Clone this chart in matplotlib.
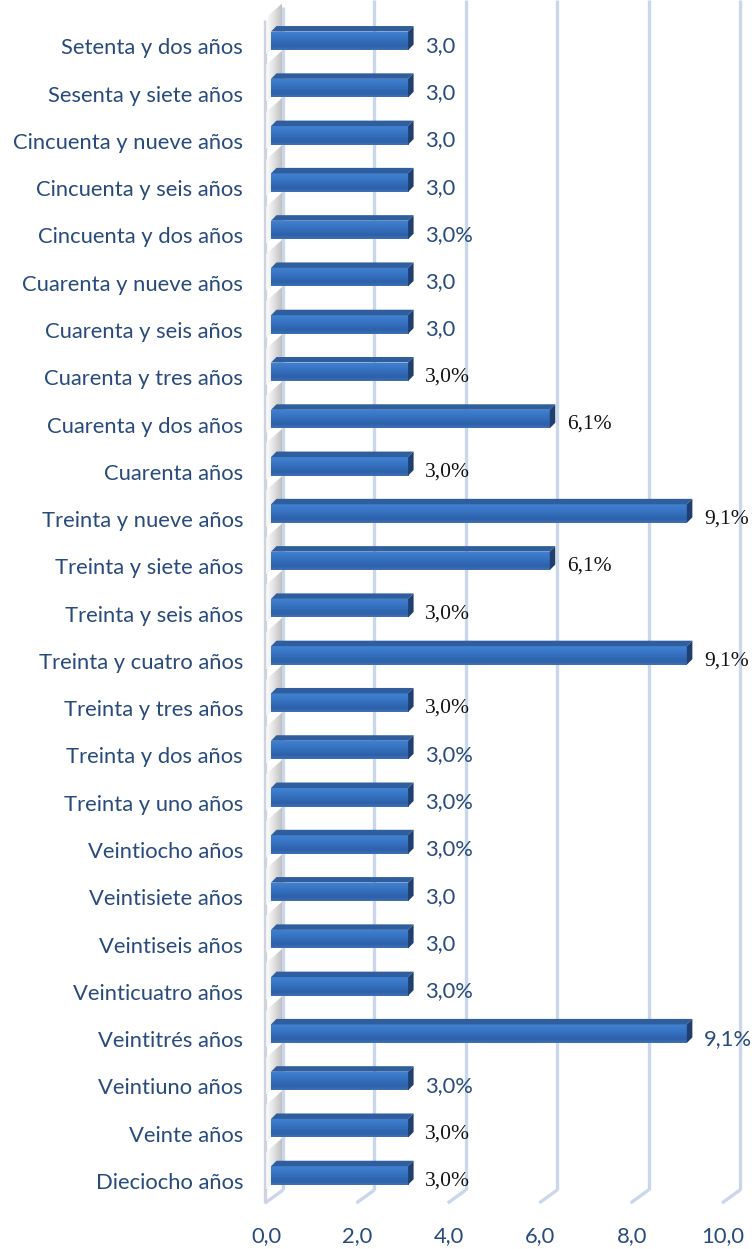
import numpy as np
import matplotlib
matplotlib.use("Agg")
import matplotlib.pyplot as plt
from matplotlib.patches import Polygon
from matplotlib.colors import LinearSegmentedColormap

# ---------------- data (top to bottom) ----------------
categories = [
    "Setenta y dos años", "Sesenta y siete años", "Cincuenta y nueve años",
    "Cincuenta y seis años", "Cincuenta y dos años", "Cuarenta y nueve años",
    "Cuarenta y seis años", "Cuarenta y tres años", "Cuarenta y dos años",
    "Cuarenta años", "Treinta y nueve años", "Treinta y siete años",
    "Treinta y seis años", "Treinta y cuatro años", "Treinta y tres años",
    "Treinta y dos años", "Treinta y uno años", "Veintiocho años",
    "Veintisiete años", "Veintiseis años", "Veinticuatro años",
    "Veintitrés años", "Veintiuno años", "Veinte años", "Dieciocho años",
]
values = [3.0, 3.0, 3.0, 3.0, 3.0, 3.0, 3.0, 3.0, 6.1, 3.0, 9.1, 6.1, 3.0,
          9.1, 3.0, 3.0, 3.0, 3.0, 3.0, 3.0, 3.0, 9.1, 3.0, 3.0, 3.0]
value_labels = ["3,0", "3,0", "3,0", "3,0", "3,0%", "3,0", "3,0", "3,0%",
                "6,1%", "3,0%", "9,1%", "6,1%", "3,0%", "9,1%", "3,0%",
                "3,0%", "3,0%", "3,0%", "3,0", "3,0", "3,0%", "9,1%",
                "3,0%", "3,0%", "3,0%"]
label_styles = ["b", "b", "b", "b", "b", "b", "b", "s", "s", "s", "s", "s",
                "s", "s", "s", "b", "b", "b", "b", "b", "b", "b", "b", "s", "s"]
xticks = [0, 2, 4, 6, 8, 10]
xtick_labels = ["0,0", "2,0", "4,0", "6,0", "8,0", "10,0"]

# ---------------- geometry ----------------
W, H = 752, 1249
fig = plt.figure(figsize=(W / 100, H / 100), dpi=100)
ax = fig.add_axes([0, 0, 1, 1])
ax.axis("off")

n = len(categories)
ppu = 45.7          # pixels per value unit
x0px = 271
ytop_px, ybot_px = 40.8, 1175.5
step = (ybot_px - ytop_px) / (n - 1)
dxu = 1 / ppu       # one pixel in x data units
dyu = 1 / step      # one pixel in y data units (y grows downward)

def py(p):  # pixel y -> data y
    return (p - ytop_px) / step

xlim = (-x0px / ppu, (W - x0px) / ppu)
ylim = (py(H), py(0))

navy = "#284A7C"
grid_c = "#CAD7EA"
FS = 15.8

# back wall gridlines + floor diagonals
for t in xticks:
    xb = t + 12 * dxu
    xf = t - 6 * dxu
    ax.plot([xb, xb], [py(0 if t else 7), py(1190)], color=grid_c, lw=2.4,
            solid_capstyle="butt", zorder=1)
    ax.plot([xb, xf], [py(1190), py(1203)], color=grid_c, lw=2.4,
            solid_capstyle="butt", zorder=1)
# left wall front edge
ax.plot([-6 * dxu, -6 * dxu], [py(20), py(1203)], color="#CDD4DE", lw=2.4,
        solid_capstyle="butt", zorder=1)

ypos = np.arange(n)
bh = 18.5 * dyu
ddx, ddy = 5.5 * dxu, 5.5 * dyu

# wall shadows (soft gradient)
sh_grad = np.linspace(0, 1, 32).reshape(1, -1)
sh_cmap = LinearSegmentedColormap.from_list("sh", ["#FFFFFF", "#D8D8D8", "#ADADAD"])
for y in ypos:
    top = y - bh / 2
    bot = y + bh / 2
    poly = Polygon([(-5 * dxu, top - 14 * dyu), (11 * dxu, top - 28 * dyu),
                    (11 * dxu, bot - 8 * dyu), (-5 * dxu, bot + 4 * dyu)],
                   closed=True, facecolor="none", edgecolor="none")
    ax.add_patch(poly)
    im = ax.imshow(sh_grad, extent=[-5 * dxu, 11 * dxu, bot + 4 * dyu,
                                    top - 28 * dyu],
                   cmap=sh_cmap, aspect="auto", zorder=1.5, alpha=0.75)
    im.set_clip_path(poly)

bars = ax.barh(ypos, values, height=bh, color="#3670BF", edgecolor="none",
               zorder=3)

grad = np.linspace(0, 1, 64).reshape(-1, 1)
cmap = LinearSegmentedColormap.from_list(
    "bar", ["#4282D2", "#3C7ACA", "#3672C0", "#3169B5", "#2D61A9", "#4070B5"])
for b in bars:
    x, y, w, h = b.get_x(), b.get_y(), b.get_width(), b.get_height()
    im = ax.imshow(grad, extent=[x, x + w, y + h, y], cmap=cmap,
                   aspect="auto", zorder=3.1, origin="upper")
    im.set_clip_path(b)
    # top face
    ax.add_patch(Polygon([(x, y), (x + w, y), (x + w + ddx, y - ddy),
                          (x + ddx, y - ddy)], closed=True,
                         facecolor="#2F5E9E", edgecolor="none", zorder=3.2))
    # side face
    ax.add_patch(Polygon([(x + w, y), (x + w + ddx, y - ddy),
                          (x + w + ddx, y + h - ddy), (x + w, y + h)],
                         closed=True, facecolor="#213F6E", edgecolor="none",
                         zorder=3.2))

# category labels
for y, c in zip(ypos, categories):
    ax.text(-28 * dxu, y + 13.5 * dyu, c, ha="right", va="baseline",
            fontsize=FS, family="Lato", color=navy, zorder=5)

# value labels
for y, v, lab, st in zip(ypos, values, value_labels, label_styles):
    if st == "b":
        ax.text(v + 17 * dxu, y + 11 * dyu, lab, ha="left", va="baseline",
                fontsize=FS, family="Lato", color=navy, zorder=5)
    else:
        ax.text(v + 17 * dxu, y + 10 * dyu, lab, ha="left", va="baseline",
                fontsize=15.5, family="Liberation Serif", color="#111111",
                zorder=5)

# x tick labels
for t, lab in zip(xticks, xtick_labels):
    ax.text(t - 5 * dxu, py(1242), lab, ha="center", va="baseline",
            fontsize=FS, family="Lato", color=navy, zorder=5)

ax.set_xlim(*xlim)
ax.set_ylim(*ylim)
fig.savefig("out.png", dpi=100)
